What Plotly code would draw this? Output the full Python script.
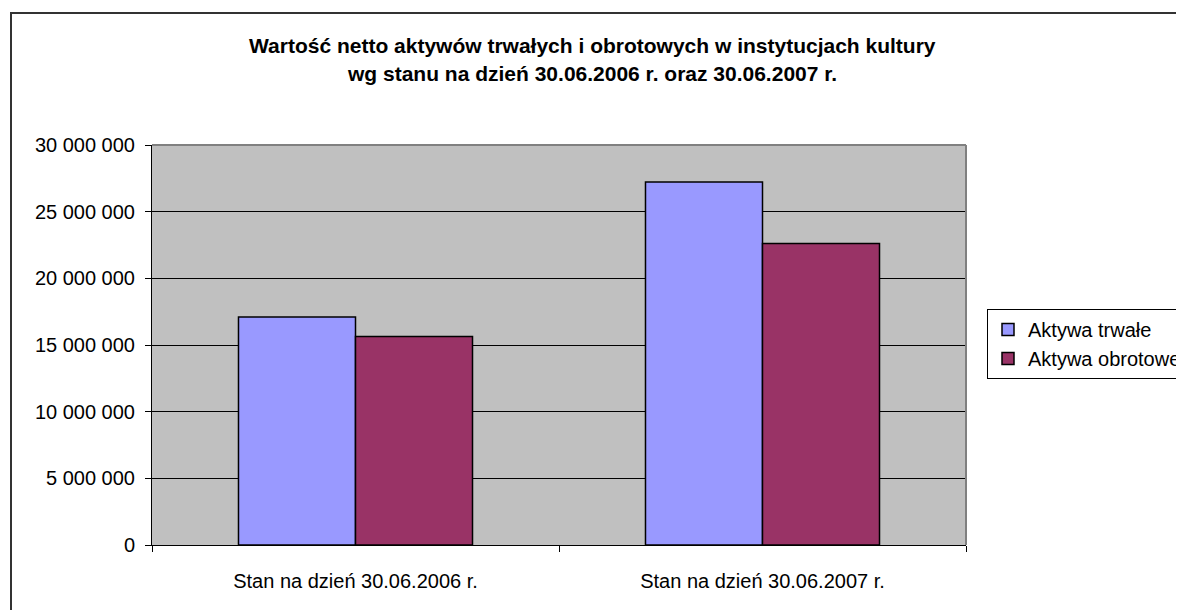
import plotly.graph_objects as go

categories = ["Stan na dzień 30.06.2006 r.", "Stan na dzień 30.06.2007 r."]
aktywa_trwale = [17100000, 27230000]
aktywa_obrotowe = [15640000, 22610000]
series_names = ["Aktywa trwałe", "Aktywa obrotowe"]
title_lines = ["Wartość netto aktywów trwałych i obrotowych w instytucjach kultury",
               "wg stanu na dzień 30.06.2006 r. oraz 30.06.2007 r."]
y_ticks = [0, 5000000, 10000000, 15000000, 20000000, 25000000, 30000000]
y_tick_labels = ["0", "5 000 000", "10 000 000", "15 000 000", "20 000 000", "25 000 000", "30 000 000"]

OFF = 8  # default page body margin
W, H = 1176, 602
L, R, T, B = 144, 218, 137, 65
pw, ph = W - L - R, H - T - B

def px(x):  # page x -> paper x
    return (x - OFF - L) / pw

def py(y):  # page y -> paper y
    return (H - B - (y - OFF)) / ph

FONT = "Liberation Sans, Arial, sans-serif"

fig = go.Figure()
fig.add_trace(go.Bar(x=categories, y=aktywa_trwale, name=series_names[0],
                     marker=dict(color="#9999FF", line=dict(color="#000000", width=1.5)),
                     legendgroup="a"))
fig.add_trace(go.Bar(x=categories, y=aktywa_obrotowe, name=series_names[1],
                     marker=dict(color="#993366", line=dict(color="#000000", width=1.5)),
                     legendgroup="b"))

fig.update_layout(
    width=W, height=H,
    margin=dict(l=L, r=R, t=T, b=B, autoexpand=False),
    paper_bgcolor="white", plot_bgcolor="#C0C0C0",
    barmode="group", bargap=0.425, bargroupgap=0,
    font=dict(family=FONT, color="#000000", size=20),
    showlegend=True,
    legend=dict(x=px(987), y=py(309), xanchor="left", yanchor="top",
                bordercolor="#000000", borderwidth=1, bgcolor="white",
                font=dict(size=20, family=FONT), traceorder="grouped",
                tracegroupgap=0, itemwidth=30),
    xaxis=dict(showline=True, linecolor="#000000", linewidth=1,
               ticks="outside", tickson="boundaries", ticklen=6, tickcolor="#000000",
               showgrid=False, tickfont=dict(size=20), ticklabelstandoff=18),
    yaxis=dict(range=[0, 30000000], tickvals=y_ticks, ticktext=y_tick_labels,
               showline=True, linecolor="#000000", linewidth=1,
               ticks="outside", ticklen=6, tickcolor="#000000",
               showgrid=True, gridcolor="#000000", gridwidth=1,
               zeroline=False, tickfont=dict(size=20), ticklabelstandoff=6),
)

# plot area top/right border (gray)
fig.add_shape(type="line", xref="paper", yref="paper", x0=0, x1=1, y0=1, y1=1,
              line=dict(color="#808080", width=2))
fig.add_shape(type="line", xref="paper", yref="paper", x0=1, x1=1, y0=0, y1=1,
              line=dict(color="#808080", width=2))
# outer chart border
fig.add_shape(type="rect", xref="paper", yref="paper",
              x0=px(11), x1=px(1200), y0=py(13), y1=py(630),
              line=dict(color="#333333", width=2), layer="below")

for i, line in enumerate(title_lines):
    fig.add_annotation(text="<b>" + line + "</b>", xref="paper", yref="paper",
                       x=px(592), y=py([45, 73][i]), xanchor="center", yanchor="middle",
                       showarrow=False, font=dict(size=21, family=FONT))

fig.write_html("out.html")
